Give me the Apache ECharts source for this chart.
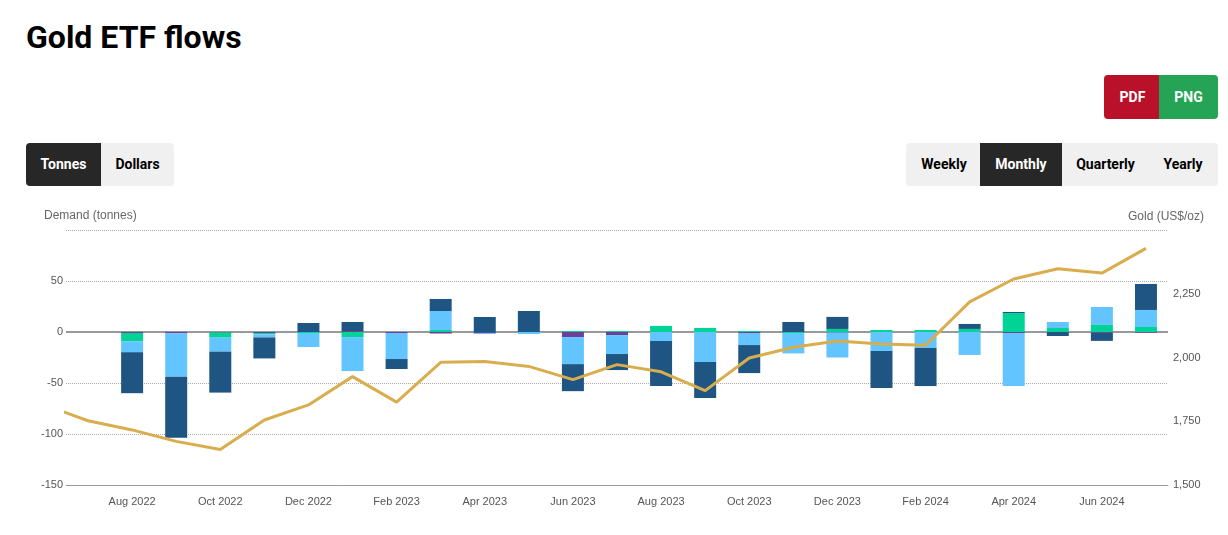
<!DOCTYPE html>
<html lang="en">
<head>
<meta charset="utf-8">
<title>Gold ETF flows</title>
<script src="https://cdn.jsdelivr.net/npm/echarts@6/dist/echarts.min.js"></script>
<style>
    html, body { margin: 0; height: 100%; background: #fff; overflow: hidden; }
    body { position: relative; font-family: Roboto, sans-serif; }
    h1 { position: absolute; left: 26px; top: 18px; margin: 0; font-size: 32px; line-height: 38px; font-weight: 700; color: #000; }
    .btn { position: absolute; box-sizing: border-box; text-align: center; font-size: 14px; font-weight: 700; color: #000; background: #f0f0f0; }
    .on { background: #272727; color: #fff; }
    .row1 { top: 143px; height: 43px; line-height: 43px; }
    .exp { top: 75px; height: 44px; line-height: 44px; color: #fff; }
    #container { position: absolute; left: 0; top: 200px; width: 1228px; height: 335px; }
</style>
</head>
<body>
<h1>Gold ETF flows</h1>
<div class="btn exp" style="left:1104px;width:55px;padding-left:2px;background:#b91129;border-radius:4px 0 0 4px">PDF</div>
<div class="btn exp" style="left:1159px;width:59px;background:#24a454;border-radius:0 4px 4px 0">PNG</div>
<div class="btn row1 on" style="left:26px;width:75px;border-radius:4px 0 0 4px">Tonnes</div>
<div class="btn row1" style="left:101px;width:73px;border-radius:0 4px 4px 0">Dollars</div>
<div class="btn row1" style="left:906px;width:74px;padding-left:2px;border-radius:4px 0 0 4px">Weekly</div>
<div class="btn row1 on" style="left:980px;width:82px">Monthly</div>
<div class="btn row1" style="left:1062px;width:87px">Quarterly</div>
<div class="btn row1" style="left:1149px;width:69px;padding-right:1px;border-radius:0 4px 4px 0">Yearly</div>
<div id="container"></div>

<script type="text/javascript">
    var months = ['Jul 2022', 'Aug 2022', 'Sep 2022', 'Oct 2022', 'Nov 2022', 'Dec 2022', 'Jan 2023', 'Feb 2023', 'Mar 2023',
        'Apr 2023', 'May 2023', 'Jun 2023', 'Jul 2023', 'Aug 2023', 'Sep 2023', 'Oct 2023', 'Nov 2023', 'Dec 2023',
        'Jan 2024', 'Feb 2024', 'Mar 2024', 'Apr 2024', 'May 2024', 'Jun 2024', 'Jul 2024'];

    // stacked from the zero line outwards: other, asia, lightBlue, darkBlue
    var other = [null, -1, -1.3, -0.5, -1, 0, 1, -1, -1.5, -1, 0, -5, -3, 0, 0, -1, 0, -0.5, 0, 0, 0, -1, 0, -0.7, -0.7];
    var asia = [null, -8, 0, -5, -1.3, -1, -5, 0, 2, 0, 0, 1, 1, 6, 4, 1, -1, 3, 2, 2, 3, 18.6, 3.9, 6.9, 4.9];
    var europe = [null, -10.8, -42.5, -13.7, -3, -13.7, -33.3, -25.5, 18.6, -1, -2, -26.5, -18.6, -8.8, -29.4, -11.8, -20, -24.5, -18.6, -15.7, -22.5, -52, 5.9, 17.6, 16.7];
    var america = [null, -40.2, -59.8, -40.2, -20.6, 8.8, 8.8, -9.8, 11.8, 14.7, 20.6, -26.5, -15.7, -44.1, -35.3, -27.5, 9.8, 11.8, -36.3, -37.3, 4.9, 1, -3.9, -8, 25.5];

    // the price line begins one month before the first category and is cut off by the plot edge
    var goldMonthIndex = [-1, 0, 1, 2, 3, 4, 5, 6, 7, 8, 9, 10, 11, 12, 13, 14, 15, 16, 17, 18, 19, 20, 21, 22, 23, 24];
    var goldPrice = [1815, 1752, 1716, 1671, 1639, 1755, 1814, 1925, 1825, 1981, 1984, 1965, 1913, 1972, 1944, 1870,
        1998, 2040, 2065, 2053, 2048, 2218, 2308, 2348, 2331, 2428];

    var labelFont = 'Liberation Sans';
    var myChart = echarts.init(document.getElementById('container'));

    function oddIndex(index) {
        return index % 2 === 1;
    }

    function barSeries(name, data, color) {
        return {
            name: name,
            type: 'bar',
            stack: 'flows',
            stackStrategy: 'samesign',
            barWidth: 22,
            z: 3,
            data: data,
            itemStyle: {color: color}
        };
    }

    var otherSeries = barSeries('Other', other, '#6e3f96');
    otherSeries.markLine = {
        silent: true,
        z: 1,
        symbol: 'none',
        label: {show: false},
        lineStyle: {color: '#999', width: 2, type: 'solid'},
        data: [{yAxis: 0}]
    };

    var option = {
        animation: false,
        title: {
            text: 'Demand (tonnes)',
            left: 44,
            top: 10,
            padding: 0,
            textStyle: {color: '#666', fontFamily: labelFont, fontSize: 12, fontWeight: 'normal'}
        },
        grid: {left: 66, right: 60, top: 30, height: 255},
        xAxis: [
            {
                type: 'category',
                data: months,
                axisLine: {onZero: false, lineStyle: {color: '#999', width: 1}},
                axisTick: {alignWithLabel: true, interval: oddIndex, length: 10, lineStyle: {color: '#ccd6eb'}},
                axisLabel: {interval: oddIndex, color: '#555', fontFamily: labelFont, fontSize: 11, margin: 11}
            },
            {
                type: 'value',
                min: -0.5,
                max: 24.5,
                show: false
            }
        ],
        yAxis: [
            {
                type: 'value',
                min: -150,
                max: 100,
                interval: 50,
                axisLine: {show: false},
                axisTick: {show: false},
                axisLabel: {
                    color: '#555', fontFamily: labelFont, fontSize: 11, margin: 3, padding: [4, 0, 0, 0],
                    formatter: function (v) { return v === 100 ? '' : String(v); }
                },
                splitLine: {lineStyle: {color: '#aaa', type: 'dotted'}}
            },
            {
                type: 'value',
                min: 1500,
                max: 2500,
                interval: 250,
                position: 'right',
                name: 'Gold (US$/oz)',
                nameLocation: 'end',
                nameGap: 7,
                nameTextStyle: {color: '#666', fontFamily: labelFont, fontSize: 12, align: 'right', padding: [0, -36, 0, 0]},
                axisLine: {show: false},
                axisTick: {show: false},
                axisLabel: {
                    color: '#555', fontFamily: labelFont, fontSize: 11, margin: 5, padding: [4, 0, 0, 0],
                    formatter: function (v) { return v === 2500 ? '' : echarts.format.addCommas(v); }
                },
                splitLine: {show: false}
            }
        ],
        series: [
            otherSeries,
            barSeries('Asia', asia, '#00d395'),
            barSeries('Europe', europe, '#63c5ff'),
            barSeries('North America', america, '#1f5582'),
            {
                name: 'Gold price',
                type: 'line',
                xAxisIndex: 1,
                yAxisIndex: 1,
                symbol: 'none',
                z: 5,
                lineStyle: {color: '#d9ad4e', width: 3},
                data: goldMonthIndex.map(function (m, i) { return [m, goldPrice[i]]; })
            }
        ]
    };
    myChart.setOption(option);
</script>
</body>
</html>
